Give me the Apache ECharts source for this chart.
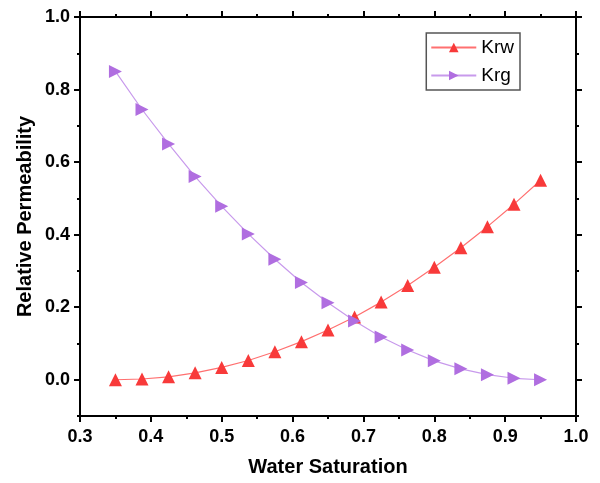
<!DOCTYPE html>
<html>
<head>
<meta charset="UTF-8">
<script src="https://cdn.jsdelivr.net/npm/echarts@6/dist/echarts.min.js"></script>
<style>
  html, body { margin: 0; padding: 0; background: #fff; }
  #chart { width: 600px; height: 483px; }
</style>
</head>
<body>
<div id="chart"></div>
<script>
// water saturation values
const sw = [0.35, 0.3875, 0.425, 0.4625, 0.5, 0.5375, 0.575, 0.6125, 0.65,
            0.6875, 0.725, 0.7625, 0.8, 0.8375, 0.875, 0.9125, 0.95];
const krw = [0.0, 0.002, 0.008, 0.019, 0.034, 0.053, 0.077, 0.105, 0.137,
             0.173, 0.214, 0.26, 0.31, 0.364, 0.422, 0.484, 0.55];
const krg = [0.85, 0.745, 0.65, 0.56, 0.478, 0.402, 0.332, 0.268, 0.212,
             0.162, 0.118, 0.082, 0.052, 0.03, 0.014, 0.004, 0.0];
const yMajor = [0, 0.2, 0.4, 0.6, 0.8, 1.0];

const font = 'Liberation Sans, Arial, sans-serif';
const chart = echarts.init(document.getElementById('chart'));

const pairs = arr => sw.map((x, i) => [x, arr[i]]);

const baseX = {
    type: 'value', min: 0.3, max: 1.0, interval: 0.1,
    axisLine: { show: true, onZero: false, lineStyle: { color: '#000', width: 2 } },
    axisTick: { show: true, length: 6, lineStyle: { color: '#000', width: 2 } },
    minorTick: { show: true, splitNumber: 2, length: 3, lineStyle: { color: '#000', width: 2 } },
    splitLine: { show: false }
};

chart.setOption({
    animation: false,
    grid: { left: 80, right: 24, top: 17, bottom: 67, outerBoundsMode: 'none' },
    legend: {
        right: 80, top: 33, orient: 'vertical',
        itemWidth: 45, itemHeight: 12, itemGap: 9,
        padding: [5, 6, 5, 4],
        borderColor: '#555', borderWidth: 1.5,
        textStyle: { fontFamily: font, fontSize: 19, color: '#000' },
        data: ['Krw', 'Krg']
    },
    xAxis: [
        Object.assign({}, baseX, {
            position: 'bottom',
            name: 'Water Saturation', nameLocation: 'middle', nameGap: 41,
            nameTextStyle: { fontFamily: font, fontSize: 20, fontWeight: 'bold', color: '#000' },
            axisLabel: {
                fontFamily: font, fontSize: 18, fontWeight: 'bold', color: '#000', margin: 12,
                formatter: v => v.toFixed(1)
            }
        }),
        Object.assign({}, baseX, { position: 'top', axisLabel: { show: false } })
    ],
    yAxis: [
        {
            type: 'value', min: -0.1, max: 1.0, interval: 0.1, position: 'left',
            name: 'Relative Permeability', nameLocation: 'middle', nameGap: 45,
            nameTextStyle: { fontFamily: font, fontSize: 20, fontWeight: 'bold', color: '#000' },
            axisLine: { show: true, onZero: false, lineStyle: { color: '#000', width: 2 } },
            axisTick: { show: true, length: 3, lineStyle: { color: '#000', width: 2 } },
            axisLabel: { show: false },
            splitLine: { show: false }
        },
        {
            type: 'value', min: -0.1, max: 1.0, position: 'left',
            axisLine: { show: false },
            axisTick: { show: true, length: 6, customValues: yMajor, lineStyle: { color: '#000', width: 2 } },
            axisLabel: {
                fontFamily: font, fontSize: 18, fontWeight: 'bold', color: '#000', margin: 10,
                customValues: yMajor, formatter: v => v.toFixed(1)
            },
            splitLine: { show: false }
        },
        {
            type: 'value', min: -0.1, max: 1.0, interval: 0.1, position: 'right',
            axisLine: { show: true, onZero: false, lineStyle: { color: '#000', width: 2 } },
            axisTick: { show: true, length: 3, lineStyle: { color: '#000', width: 2 } },
            axisLabel: { show: false },
            splitLine: { show: false }
        },
        {
            type: 'value', min: -0.1, max: 1.0, position: 'right',
            axisLine: { show: false },
            axisTick: { show: true, length: 6, customValues: yMajor, lineStyle: { color: '#000', width: 2 } },
            axisLabel: { show: false },
            splitLine: { show: false }
        }
    ],
    series: [
        {
            name: 'Krw', type: 'line', data: pairs(krw),
            symbol: 'triangle', symbolSize: 13,
            itemStyle: { color: '#f83a3a' },
            lineStyle: { color: '#ff7070', width: 1.2 }
        },
        {
            name: 'Krg', type: 'line', data: pairs(krg),
            symbol: 'triangle', symbolSize: 13, symbolRotate: -90,
            itemStyle: { color: '#b06ee0' },
            lineStyle: { color: '#c89aec', width: 1.2 }
        }
    ]
});
</script>
</body>
</html>
